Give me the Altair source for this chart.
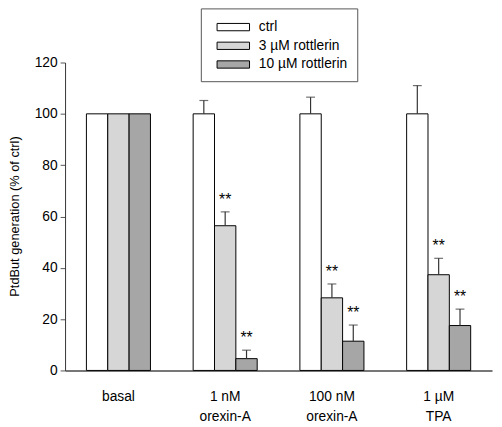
import altair as alt
import pandas as pd

groups = ["basal", "1 nM|orexin-A", "100 nM|orexin-A", "1 µM|TPA"]
series = ["ctrl", "3 µM rottlerin", "10 µM rottlerin"]
ctrl = [100, 100, 100, 100]
ctrl_err = [0, 5.2, 6.5, 11.0]
r3 = [100, 56.4, 28.3, 37.3]
r3_err = [0, 5.4, 5.4, 6.4]
r10 = [100, 4.6, 11.4, 17.5]
r10_err = [0, 3.3, 6.3, 6.4]
r3_sig = ["", "**", "**", "**"]
r10_sig = ["", "**", "**", "**"]
ctrl_sig = ["", "", "", ""]

rows = []
for vals, errs, sig, s in [(ctrl, ctrl_err, ctrl_sig, series[0]),
                           (r3, r3_err, r3_sig, series[1]),
                           (r10, r10_err, r10_sig, series[2])]:
    for g, v, e, t in zip(groups, vals, errs, sig):
        rows.append({"group": g, "series": s, "value": v, "err": e,
                     "top": v + e, "sig": t})
df = pd.DataFrame(rows)

FONT = "Liberation Sans"
x = alt.X("group:N", sort=groups,
          scale=alt.Scale(paddingInner=0.4, paddingOuter=0.2),
          axis=alt.Axis(title=None, labelAngle=0, ticks=False,
                        labelExpr="split(datum.label, '|')",
                        labelPadding=20, labelLineHeight=20,
                        labelFont=FONT, labelFontSize=14, labelColor="black",
                        domainColor="#777777", domainWidth=2))
xo = alt.XOffset("series:N", sort=series, scale=alt.Scale(paddingInner=0, paddingOuter=0))
y = alt.Y("value:Q", scale=alt.Scale(domain=[0, 120], nice=False),
          axis=alt.Axis(title="PtdBut generation (% of ctrl)", values=[0, 20, 40, 60, 80, 100, 120],
                        grid=False, tickSize=5, tickColor="#555555", labelPadding=3,
                        labelFont=FONT, labelFontSize=14, labelColor="black",
                        titleFont=FONT, titleFontSize=13, titleFontWeight="normal",
                        titleColor="black", titleX=-44, titleY=156,
                        domainColor="#333333", domainWidth=1))

bars = alt.Chart(df).mark_bar(stroke="black", strokeWidth=1).encode(
    x=x, xOffset=xo, y=y,
    fill=alt.Fill("series:N", sort=series,
                  scale=alt.Scale(domain=series, range=["#ffffff", "#d6d6d6", "#a6a6a6"]),
                  legend=alt.Legend(title=None, orient="none", legendX=138, legendY=-55,
                                    symbolType="M-2,-0.45H2V0.45H-2Z", symbolSize=272,
                                    symbolStrokeColor="black", symbolStrokeWidth=1,
                                    symbolOffset=14, labelOffset=17,
                                    labelFont=FONT, labelFontSize=14, labelColor="black",
                                    padding=10, rowPadding=3,
                                    strokeColor="#555555", fillColor="white")),
)

errdf = alt.Chart(df).transform_filter("datum.err > 0")
err_rule = errdf.mark_rule(color="#333333", strokeWidth=1.2).encode(
    x=x, xOffset=xo, y=y, y2="top:Q")
err_cap = errdf.mark_tick(color="#333333", thickness=1.2, size=9).encode(
    x=x, xOffset=xo, y=alt.Y("top:Q"))
stars = alt.Chart(df).transform_filter("datum.sig != ''").mark_text(
    font=FONT, fontSize=16, baseline="alphabetic", dy=-7, color="black").encode(
    x=x, xOffset=xo, y=alt.Y("top:Q"), text="sig:N")

chart = alt.layer(bars, err_rule, err_cap, stars).properties(
    width=434, height=313,
    autosize=alt.AutoSizeParams(type="none"),
    padding={"left": 58, "top": 52, "right": 2, "bottom": 50},
).configure_view(stroke=None)

chart.save("out.html", embed_options={"renderer": "svg", "actions": False})
